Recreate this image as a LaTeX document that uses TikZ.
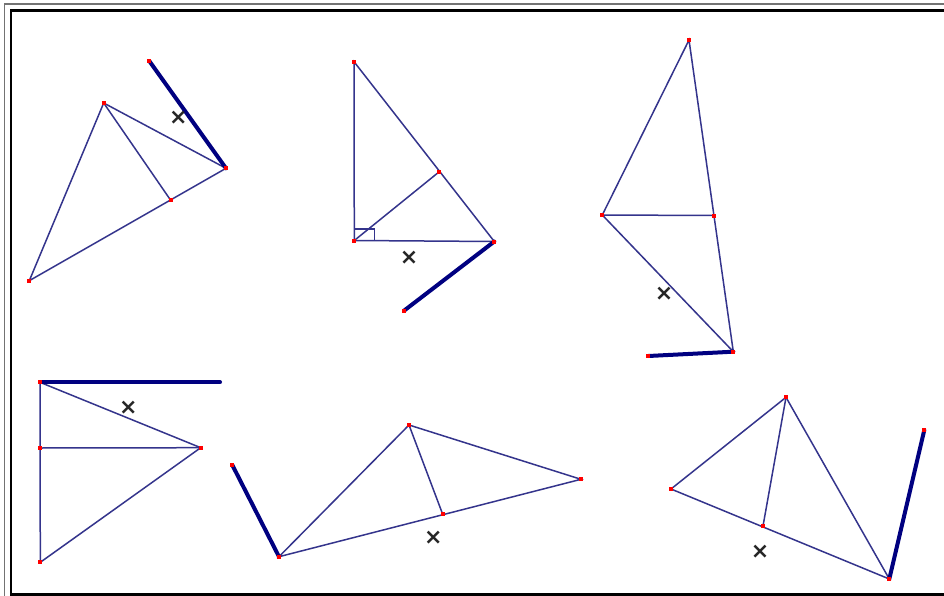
\documentclass[tikz,border=0pt]{standalone}
\usepackage{fontspec}
\setmainfont{Liberation Sans}
\newfontfamily\crossfont{DejaVu Sans}
\usetikzlibrary{calc}
\begin{document}
\begin{tikzpicture}[x=1pt,y=-1pt,
  thinseg/.style={draw={rgb,255:red,52;green,52;blue,140}, line width=1.5pt},
  thickseg/.style={draw={rgb,255:red,0;green,0;blue,128}, line width=4pt, line cap=round},
  ptmark/.style={fill=red, draw=none},
  crossmark/.style={inner sep=0pt, font=\crossfont\bfseries\fontsize{22}{22}\selectfont, text=black!85}]
\useasboundingbox (0,0) rectangle (944,596);
\fill[white] (0,0) rectangle (944,596);
\begin{scope}
\clip (0,0) rectangle (944,596);
\draw[line width=1.8pt, black!55] (4.5,4.2) rectangle (980,620);
\draw[line width=2.4pt, black] (11,10.5) rectangle (980,594.5);
\end{scope}

% ---- figure 1
\coordinate (a1) at (103.7,103);
\coordinate (b1) at (226,168.3);
\coordinate (c1) at (29.3,280.7);
\coordinate (d1) at (170.7,200.3);
\coordinate (e1) at (149.3,61);
\draw[thinseg] (a1) -- (b1) -- (c1) -- cycle;
\draw[thinseg] (a1) -- (d1);
\draw[thickseg] (e1) -- (b1);
\node[crossmark] (x1) at (178.3,118.3) {×};

% ---- figure 2
\coordinate (a2) at (354,61.7);
\coordinate (q2) at (354.3,240.5);
\coordinate (r2) at (494.3,241.5);
\coordinate (f2) at (439.3,171.7);
\coordinate (e2) at (404,310.7);
\coordinate (s2) at (374.3,229);
\draw[thinseg] (a2) -- (q2) -- (r2) -- cycle;
\draw[thinseg] (q2) -- (f2);
\draw[thinseg] (q2 |- s2) -- (s2) -- (s2 |- q2);
\draw[thickseg] (r2) -- (e2);
\node[crossmark] (x2) at (409,258.3) {×};

% ---- figure 3
\coordinate (a3) at (689,40);
\coordinate (l3) at (602.3,215);
\coordinate (m3) at (714.3,215.5);
\coordinate (b3) at (733.3,351.7);
\coordinate (e3) at (648.3,356);
\draw[thinseg] (a3) -- (l3) -- (b3) -- cycle;
\draw[thinseg] (l3) -- (m3);
\draw[thickseg] (b3) -- (e3);
\node[crossmark] (x3) at (664,294.3) {×};

% ---- figure 4
\coordinate (a4) at (40,382.3);
\coordinate (m4) at (40.3,448);
\coordinate (c4) at (40.3,562.3);
\coordinate (r4) at (200.7,447.7);
\coordinate (e4) at (220,382.3);
\draw[thinseg] (a4) -- (c4) -- (r4) -- cycle;
\draw[thinseg] (m4) -- (r4);
\draw[thickseg] (a4) -- (e4);
\node[crossmark] (x4) at (128.3,407.7) {×};

% ---- figure 5
\coordinate (e5) at (232.3,465);
\coordinate (v5) at (279,556.7);
\coordinate (t5) at (409,425);
\coordinate (r5) at (581,479.3);
\coordinate (f5) at (442.7,514.3);
\draw[thinseg] (v5) -- (t5) -- (r5) -- cycle;
\draw[thinseg] (t5) -- (f5);
\draw[thickseg] (e5) -- (v5);
\node[crossmark] (x5) at (433.3,537.7) {×};

% ---- figure 6
\coordinate (t6) at (786,397.3);
\coordinate (l6) at (671,489);
\coordinate (f6) at (763,526);
\coordinate (b6) at (889.3,579);
\coordinate (e6) at (924.3,430);
\draw[thinseg] (t6) -- (l6) -- (b6) -- cycle;
\draw[thinseg] (t6) -- (f6);
\draw[thickseg] (b6) -- (e6);
\node[crossmark] (x6) at (760,551.7) {×};

% ---- points
\foreach \p in {a1,b1,c1,d1,e1,a2,q2,r2,f2,e2,a3,l3,m3,b3,e3,a4,m4,c4,r4,e5,v5,t5,r5,f5,t6,l6,f6,b6,e6}
  \fill[ptmark] ($(\p)+(-2,-2)$) rectangle ($(\p)+(2,2)$);
\end{tikzpicture}
\end{document}
